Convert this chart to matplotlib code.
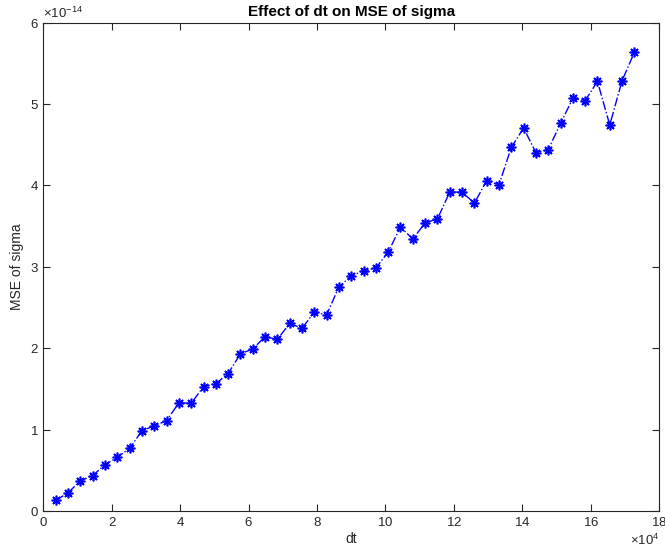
import matplotlib
matplotlib.use('Agg')
import matplotlib.pyplot as plt
from matplotlib.ticker import ScalarFormatter, MultipleLocator

# time step in seconds (1 h .. 48 h)
dt = [3600, 7200, 10800, 14400, 18000, 21600, 25200, 28800, 32400, 36000,
      39600, 43200, 46800, 50400, 54000, 57600, 61200, 64800, 68400, 72000,
      75600, 79200, 82800, 86400, 90000, 93600, 97200, 100800, 104400, 108000,
      111600, 115200, 118800, 122400, 126000, 129600, 133200, 136800, 140400, 144000,
      147600, 151200, 154800, 158400, 162000, 165600, 169200, 172800]

# MSE of sigma (units of 1e-14)
mse = [0.13, 0.225, 0.37, 0.435, 0.57, 0.66, 0.77, 0.987, 1.045, 1.11,
       1.33, 1.323, 1.528, 1.565, 1.688, 1.932, 1.99, 2.143, 2.108, 2.305,
       2.244, 2.443, 2.41, 2.754, 2.888, 2.953, 2.986, 3.181, 3.488, 3.342,
       3.54, 3.588, 3.918, 3.918, 3.783, 4.057, 4.008, 4.467, 4.705, 4.402,
       4.439, 4.762, 5.069, 5.041, 5.278, 4.742, 5.287, 5.635]
mse = [m * 1e-14 for m in mse]

plt.rcParams['font.family'] = ['Liberation Sans', 'DejaVu Sans']
plt.rcParams['mathtext.fontset'] = 'custom'
plt.rcParams['mathtext.rm'] = 'Liberation Sans'
plt.rcParams['mathtext.it'] = 'Liberation Sans:italic'

fig = plt.figure(figsize=(6.65, 5.57), dpi=100)
ax = fig.add_axes([0.0654, 0.0826, 0.9256, 0.8768])

# matlab style '*' marker: 8-arm asterisk
ax.plot(dt, mse, '-.', color='blue', marker=(8, 2, 0), markersize=7,
        markeredgewidth=1.2, linewidth=1)

ax.set_xlim(0, 180000)
ax.set_ylim(0, 6e-14)
ax.xaxis.set_major_locator(MultipleLocator(20000))
ax.yaxis.set_major_locator(MultipleLocator(1e-14))

fx = ScalarFormatter(useMathText=True)
fx.set_powerlimits((4, 4))
ax.xaxis.set_major_formatter(fx)
fy = ScalarFormatter(useMathText=True)
fy.set_powerlimits((-14, -14))
ax.yaxis.set_major_formatter(fy)

gray = '#262626'
for s in ax.spines.values():
    s.set_color(gray)
    s.set_linewidth(0.8)
ax.tick_params(direction='in', top=True, right=True, length=5, width=0.8,
               colors=gray, labelsize=9.5)
ax.xaxis.get_offset_text().set_fontsize(9.5)
ax.xaxis.get_offset_text().set_color(gray)
ax.yaxis.get_offset_text().set_fontsize(9.5)
ax.yaxis.get_offset_text().set_color(gray)

ax.set_title('Effect of dt on MSE of sigma', fontsize=11, fontweight='bold', pad=5)
ax.set_xlabel('dt', fontsize=10, color=gray, labelpad=2)
ax.set_ylabel('MSE of sigma', fontsize=10, color=gray, labelpad=4)

fig.savefig('out.png', dpi=100)
